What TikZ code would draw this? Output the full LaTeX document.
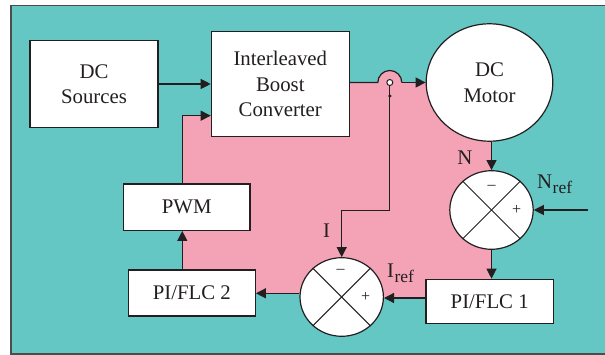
\documentclass[tikz,border=0pt]{standalone}
\usepackage{fontspec}
\setmainfont{Liberation Serif}
\usetikzlibrary{arrows.meta,shapes.geometric}
\definecolor{bgteal}{HTML}{64C7C4}
\definecolor{bgpink}{HTML}{F4A3B6}
\definecolor{ink}{HTML}{231F20}
\begin{document}
\begin{tikzpicture}[x=1pt,y=-1pt,
  every node/.style={text=ink},
  blk/.style={draw=ink,line width=1.2pt,fill=white,rectangle,inner sep=0pt,
    font=\fontsize{20.8}{25.5}\selectfont,align=center},
  sumj/.style={draw=ink,line width=1.2pt,fill=white,ellipse,inner sep=0pt,
    minimum width=83.4pt,minimum height=78.6pt},
  arr/.style={draw=ink,line width=1.2pt,-{Triangle[length=10pt,width=10pt]}},
  ln/.style={draw=ink,line width=1.2pt},
  lbl/.style={font=\fontsize{20.8}{22}\selectfont,inner sep=0pt},
  sgn/.style={font=\fontsize{16}{16}\selectfont,inner sep=0pt}]
\clip (0,0) rectangle (605,355);
% background
\fill[bgteal] (11,5.7) rectangle (620,354);
\draw[draw=black!70,line width=1.5pt] (11,5.7) rectangle (620,354);
% pink region
\fill[bgpink] (182.3,115.7) -- (211.3,115.7) -- (211.3,82.5) -- (491.5,82.5)
  -- (491.5,298) -- (341.7,298) -- (341.7,293.3) -- (182.3,293.3) -- cycle;
\fill[bgpink] (389.8,82.5) circle[radius=12];
% nodes
\node[blk,minimum width=128pt,minimum height=87pt] (src) at (94,84) {DC\\Sources};
\node[blk,minimum width=138pt,minimum height=105pt] (conv) at (280.3,84.3) {Interleaved\\Boost\\Converter};
\node[blk,ellipse,minimum width=126.6pt,minimum height=117.4pt] (motor) at (489.5,82.5) {DC\\Motor};
\node[sumj] (sum1) at (491.5,210) {};
\node[sumj] (sum2) at (341.7,297) {};
\node[blk,minimum width=127.3pt,minimum height=44pt] (pi1) at (489.7,301.3) {PI/FLC 1};
\node[blk,minimum width=127pt,minimum height=46pt] (pi2) at (191.8,293) {PI/FLC 2};
\node[blk,minimum width=126.7pt,minimum height=46.3pt] (pwm) at (186.7,207.2) {PWM};
% crosses in summing junctions
\foreach \s in {sum1,sum2}{
  \draw[ln,line width=1pt] (\s.45) -- (\s.225);
  \draw[ln,line width=1pt] (\s.135) -- (\s.315);
}
\node[sgn] at (491.7,187) {–};
\node[sgn] at (516.7,210) {+};
\node[sgn] at (340.7,271) {–};
\node[sgn] at (365.7,297) {+};
% coordinates
\coordinate (fb) at (182.3,115.7);
\coordinate (tap) at (389.8,82.5);
\coordinate (dot) at (389.8,96);
\coordinate (ibend) at (389.8,210.7);
\coordinate (nref) at (588,210);
% connectors
\draw[arr] (src.east) -- (src.east -| conv.west);
\draw[arr] (pwm.north -| fb) -- (fb) -- (fb -| conv.west);
\draw[arr] (pi2.north -| fb) -- (pwm.south -| fb);
\draw[ln,-] (conv.east |- motor.west) -- ([xshift=-12pt]tap) arc[start angle=180,end angle=360,radius=12];
\draw[arr] ([xshift=12pt]tap) -- (motor.west);
\draw[ln,fill=white,line width=1pt] (tap) circle[radius=3];
\fill[ink] (dot) circle[radius=1.8];
\draw[arr] ([yshift=-3pt]tap) -- (ibend) -- (ibend -| sum2.north) -- (sum2.north);
\draw[arr] (sum1.north |- motor.south) -- (sum1.north);
\draw[arr] (nref) -- (sum1.east);
\draw[arr] (sum1.south) -- (sum1.south |- pi1.north);
\draw[arr] (pi1.west |- 0,298) -- (sum2.east |- 0,298);
\draw[arr] (sum2.west |- 0,293.3) -- (pi2.east |- 0,293.3);
% labels
\node[lbl] (lN) at (465,158) {N};
\node[lbl,anchor=west] (lNref) at (537,184) {N\kern0.5pt\raisebox{-5pt}{\fontsize{17.5}{17.5}\selectfont ref}};
\node[lbl] (lI) at (326.7,231) {I};
\node[lbl,anchor=west] (lIref) at (387,273) {I\kern0.5pt\raisebox{-5pt}{\fontsize{17.5}{17.5}\selectfont ref}};
\end{tikzpicture}
\end{document}
